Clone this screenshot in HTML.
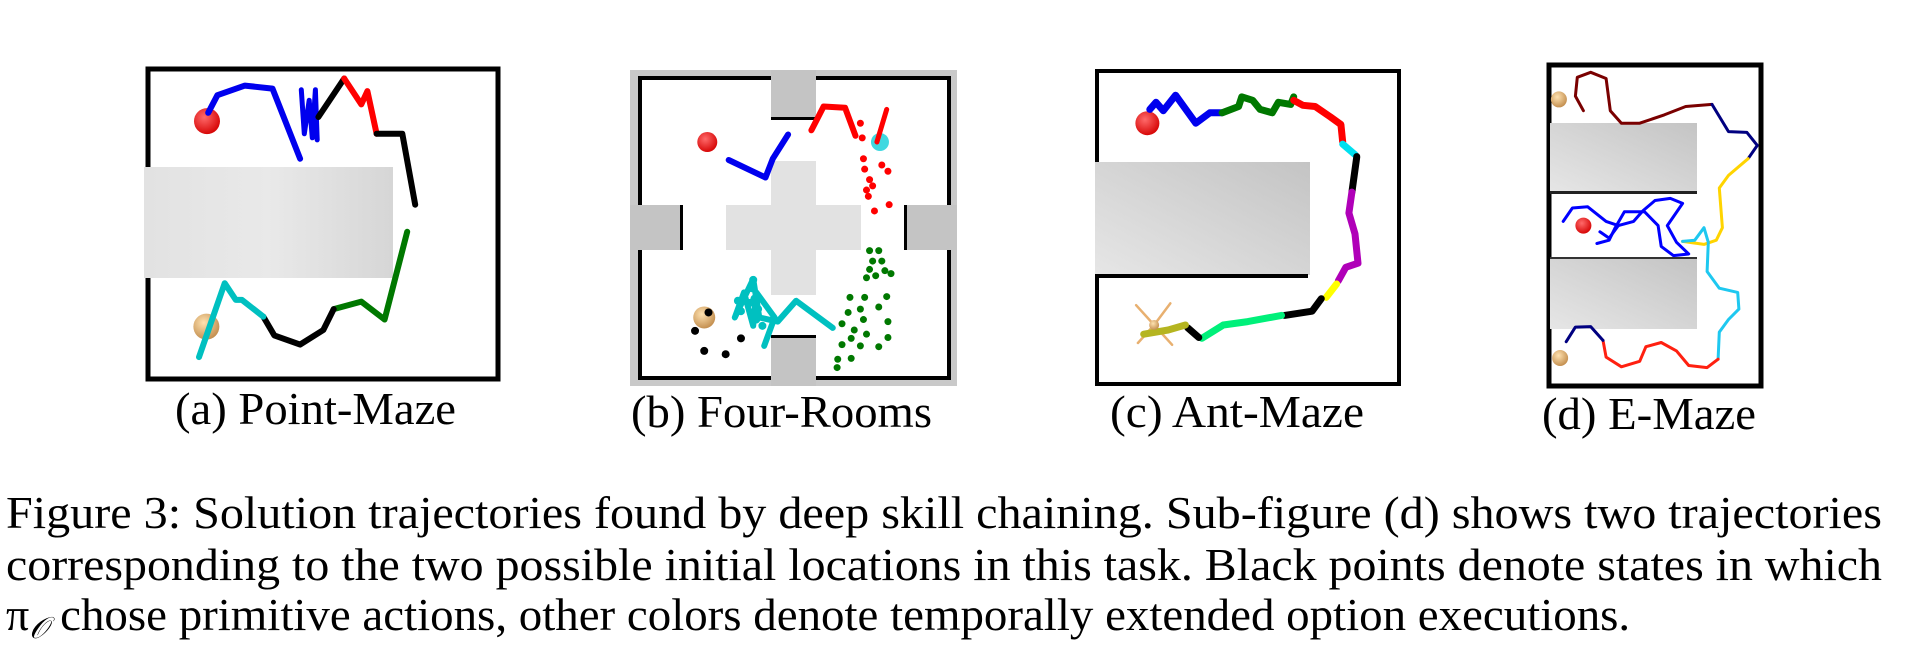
<!DOCTYPE html>
<html><head><meta charset="utf-8"><style>
html,body{margin:0;padding:0;background:#fff;width:1920px;height:655px;overflow:hidden}
svg{display:block}
text{font-family:"Liberation Serif",serif;fill:#000}
</style></head><body>
<svg id="fig" width="1920" height="655" viewBox="0 0 1920 655" xmlns="http://www.w3.org/2000/svg">
<defs>
<linearGradient id="gb" x1="0" y1="1" x2="1" y2="0"><stop offset="0" stop-color="#e6e6e6"/><stop offset="1" stop-color="#c4c4c4"/></linearGradient>
<linearGradient id="gl" x1="0" y1="0" x2="1" y2="0"><stop offset="0" stop-color="#e2e2e2"/><stop offset="0.5" stop-color="#e9e9e9"/><stop offset="1" stop-color="#d6d6d6"/></linearGradient>
<radialGradient id="rb" cx="0.4" cy="0.35" r="0.7"><stop offset="0" stop-color="#ff6a6a"/><stop offset="1" stop-color="#d40000"/></radialGradient>
<radialGradient id="tb" cx="0.4" cy="0.35" r="0.7"><stop offset="0" stop-color="#ffe2b0"/><stop offset="1" stop-color="#c08a4a"/></radialGradient>
</defs>
<g id="static"></g>
<g id="marks"></g>
<text x="175" y="424" font-size="46" textLength="281" lengthAdjust="spacingAndGlyphs">(a) Point-Maze</text>
<text x="631" y="427" font-size="46" textLength="301" lengthAdjust="spacingAndGlyphs">(b) Four-Rooms</text>
<text x="1110" y="427" font-size="46" textLength="254" lengthAdjust="spacingAndGlyphs">(c) Ant-Maze</text>
<text x="1542" y="429" font-size="46" textLength="214" lengthAdjust="spacingAndGlyphs">(d) E-Maze</text>
<text x="6" y="528" font-size="46" textLength="1876" lengthAdjust="spacingAndGlyphs">Figure 3: Solution trajectories found by deep skill chaining. Sub-figure (d) shows two trajectories</text>
<text x="6" y="580" font-size="46" textLength="1876" lengthAdjust="spacingAndGlyphs">corresponding to the two possible initial locations in this task. Black points denote states in which</text>
<text x="6" y="630" font-size="46">π<tspan font-size="30" dy="8" font-style="italic">𝒪</tspan><tspan dy="-8" dx="12" textLength="1570" lengthAdjust="spacingAndGlyphs">chose primitive actions, other colors denote temporally extended option executions.</tspan></text>
</svg>
<script>
// Coordinates on a 1568-unit grid per half of the figure.
const panelA_blue = [[340,270],[355,228],[400,205],[445,212],[490,380]];
const panelA_blueZig = [[492,215],[497,320],[505,240],[510,330],[515,215],[518,335]];
const panelA_black1 = [[520,280],[562,188]];
const panelA_red = [[562,188],[590,250],[600,218],[615,320]];
const panelA_black2 = [[615,320],[657,320],[678,490]];
const panelA_green = [[665,555],[628,765],[590,722],[545,740]];
const panelA_black3 = [[545,740],[528,790],[490,825],[448,803],[430,758]];
const panelA_cyan = [[430,758],[395,718],[385,718],[367,678],[325,855]];

const panelB_blue = [[1190,383],[1250,425],[1262,380],[1287,322]];
const panelB_red1 = [[1325,312],[1345,255],[1380,258],[1397,325]];
const panelB_red2 = [[1448,262],[1432,340]];
const panelB_redDots = [[1405,295],[1408,330],[1410,380],[1412,405],[1420,430],[1425,445],[1418,470],[1428,505],[1450,410],[1452,490],[1415,455],[1440,395]];
const panelB_greenDots = [[1420,600],[1435,600],[1425,625],[1440,625],[1420,645],[1445,648],[1455,655],[1430,660],[1415,665],[1388,712],[1412,712],[1448,710],[1405,740],[1385,748],[1435,735],[1410,765],[1375,775],[1450,770],[1395,790],[1415,800],[1390,810],[1450,808],[1375,825],[1405,828],[1435,830],[1390,858],[1368,860],[1367,880]];
const panelB_cyan = [[1248,828],[1265,760],[1235,700],[1230,780],[1215,700],[1200,760],[1230,668],[1240,760],[1270,770],[1300,720],[1360,785]];
const panelB_cyanDots = [[1230,670],[1228,690],[1232,715],[1238,740],[1235,765],[1225,725],[1245,780],[1205,720],[1210,745]];
const panelB_blackDots = [[1135,792],[1150,840],[1185,848],[1210,810],[1157,748]];

const panelC_segments = [
 ["#0000ee",[[310,262],[320,245],[332,265],[352,228],[367,258],[385,295],[408,270],[428,270]]],
 ["#007800",[[428,270],[455,255],[460,232],[478,240],[490,262],[510,270],[520,245],[540,250],[545,232]]],
 ["#ff0000",[[545,240],[560,252],[580,255],[605,280],[622,298],[625,340]]],
 ["#00e0f0",[[625,345],[645,370]]],
 ["#000000",[[648,375],[640,460]]],
 ["#b000b8",[[640,460],[635,510],[645,560],[650,630],[630,640],[618,672]]],
 ["#ffff00",[[615,680],[598,712]]],
 ["#000000",[[590,715],[575,745],[530,755]]],
 ["#00f07a",[[525,755],[470,770],[430,778],[395,810]]],
 ["#000000",[[390,808],[372,785]]],
 ["#b5b520",[[368,778],[340,790],[300,800]]]
];

const panelD_segments = [
 ["#7a0000",[[1018,265],[1005,230],[1008,185],[1030,173],[1055,188],[1062,265],[1080,295],[1110,295],[1150,275],[1185,255],[1228,250]]],
 ["#000080",[[1228,250],[1255,315],[1285,317],[1302,348],[1287,380]]],
 ["#ffd400",[[1287,380],[1255,420],[1240,450],[1245,545],[1235,575],[1215,585],[1180,578]]],
 ["#0000ff",[[985,530],[1000,498],[1025,495],[1055,530],[1075,540],[1100,530],[1115,505],[1135,480],[1160,475],[1180,487],[1155,540],[1170,580],[1190,608],[1165,612],[1145,590],[1140,540],[1118,507],[1085,507],[1070,545],[1060,575],[1040,583]]],
 ["#0000ff",[[1045,555],[1060,570],[1075,540]]],
 ["#1ec8f0",[[1180,578],[1200,575],[1215,545],[1222,580],[1220,650],[1240,690],[1270,700],[1272,740],[1255,765],[1240,795],[1238,860]]],
 ["#ff2010",[[1238,860],[1220,880],[1190,875],[1170,840],[1145,820],[1120,830],[1110,865],[1080,878],[1055,855],[1050,815]]],
 ["#000080",[[1050,815],[1030,782],[1005,783],[990,818]]]
];

const NS = "http://www.w3.org/2000/svg";
const st = document.getElementById('static');
const mk = document.getElementById('marks');
function sxL(v){return v/1.633;}
function sxR(v){return 960+v/1.633;}
function sy(v){return v/2.394;}
function el(tag, attrs, parent){
  const e=document.createElementNS(NS,tag);
  for(const k in attrs) e.setAttribute(k,attrs[k]);
  parent.appendChild(e); return e;
}
function poly(pts, sx, color, w, name){
  const e=el('polyline',{points:pts.map(p=>sx(p[0]).toFixed(1)+','+sy(p[1]).toFixed(1)).join(' '),fill:'none',stroke:color,'stroke-width':w,'stroke-linejoin':'round','stroke-linecap':'round'},mk);
  
  
}
function dots(pts, sx, color, r, name){
  const g=el('g',{fill:color},mk);
  
  
  pts.forEach(p=>el('circle',{cx:sx(p[0]),cy:sy(p[1]),r:r},g));
}
function rect(x,y,w,h,fill,name){
  const e=el('rect',{x:x,y:y,width:w,height:h,fill:fill},st);
  
  
  return e;
}
function ball(x,y,r,grad,name){
  const e=el('circle',{cx:x,cy:y,r:r,fill:grad},mk);
  
  
}

// ---- Panel A ----
let r=rect(148,69,350,310,'#fff','point-maze-frame'); r.setAttribute('stroke','#000'); r.setAttribute('stroke-width','5');
rect(144,167,249,111,'url(#gl)','point-maze-wall');
ball(sxL(338),sy(290),13,'url(#rb)','point-maze-goal');
ball(sxL(337),sy(782),13,'url(#tb)','point-maze-agent');
poly(panelA_blue,sxL,'#0000ee',6,'point-maze-blue-path');
poly(panelA_blueZig,sxL,'#0000ee',5,'point-maze-blue-zigzag');
poly(panelA_black1,sxL,'#000',6,'point-maze-black-path-1');
poly(panelA_red,sxL,'#ff0000',6,'point-maze-red-path');
poly(panelA_black2,sxL,'#000',6,'point-maze-black-path-2');
poly(panelA_green,sxL,'#007800',6,'point-maze-green-path');
poly(panelA_black3,sxL,'#000',6,'point-maze-black-path-3');
poly(panelA_cyan,sxL,'#00c0c0',6,'point-maze-cyan-path');

// ---- Panel B ----
rect(630,70,327,316,'#c9c9c9','four-rooms-outer');
rect(638,76,313,304,'#000','four-rooms-wall');
rect(642,80,305,296,'#fff','four-rooms-floor');
rect(771,70,45,48,'#c4c4c4','four-rooms-door-top');
rect(771,117,45,3,'#000','four-rooms-door-top-edge');
rect(771,336,45,50,'#c4c4c4','four-rooms-door-bottom');
rect(771,335,45,3,'#000','four-rooms-door-bottom-edge');
rect(630,205,51,45,'#c4c4c4','four-rooms-door-left');
rect(680,205,3,45,'#000','four-rooms-door-left-edge');
rect(905,205,52,45,'#c4c4c4','four-rooms-door-right');
rect(904,205,3,45,'#000','four-rooms-door-right-edge');
rect(771,161,45,134,'#e2e2e2','four-rooms-cross-v');
rect(726,205,135,45,'#e2e2e2','four-rooms-cross-h');
ball(sxL(1155),sy(340),10,'url(#rb)','four-rooms-goal');
ball(sxL(1437),sy(340),9,'#40d8e0','four-rooms-cyan-target');
ball(sxL(1150),sy(760),11,'url(#tb)','four-rooms-agent');
poly(panelB_blue,sxL,'#0000ee',6,'four-rooms-blue-path');
poly(panelB_red1,sxL,'#ff0000',6,'four-rooms-red-path-1');
poly(panelB_red2,sxL,'#ff0000',5,'four-rooms-red-path-2');
dots(panelB_redDots,sxL,'#ff0000',3.5,'four-rooms-red-dots');
dots(panelB_greenDots,sxL,'#007800',3.5,'four-rooms-green-dots');
poly(panelB_cyan,sxL,'#00c0c0',6,'four-rooms-cyan-path');
dots(panelB_cyanDots,sxL,'#00c0c0',4,'four-rooms-cyan-dots');
dots(panelB_blackDots,sxL,'#000',4,'four-rooms-black-dots');

// ---- Panel C ----
r=rect(1097,71,302,313,'#fff','ant-maze-frame'); r.setAttribute('stroke','#000'); r.setAttribute('stroke-width','4');
rect(1095,162,215,113,'url(#gb)','ant-maze-wall');
rect(1095,274,213,4,'#000','ant-maze-wall-edge');
ball(sxR(306),sy(295),12,'url(#rb)','ant-maze-goal');
const ant=el('g',{stroke:'#e8b070','stroke-width':2.5,'stroke-linecap':'round'},mk);


const ax=sxR(317), ay=sy(778);
[[-20,-22],[18,-24],[-18,20],[20,22]].forEach(d=>el('line',{x1:ax,y1:ay,x2:ax+d[0]*0.9,y2:ay+d[1]*0.9},ant));
panelC_segments.forEach((s,i)=>poly(s[1],sxR,s[0],7,'ant-maze-path-'+(i+1)));
ball(ax,ay,5,'url(#tb)','ant-body');

// ---- Panel D ----
r=rect(1549,65,212,321,'#fff','e-maze-frame'); r.setAttribute('stroke','#000'); r.setAttribute('stroke-width','5');
rect(1550,123,147,69,'url(#gb)','e-maze-wall-top');
rect(1550,191,147,3,'#222','e-maze-wall-top-edge');
rect(1550,259,147,70,'url(#gb)','e-maze-wall-bottom');
rect(1550,257,147,2,'#333','e-maze-wall-bottom-edge');
panelD_segments.forEach((s,i)=>poly(s[1],sxR,s[0],3,'e-maze-path-'+(i+1)));
ball(sxR(1018),sy(540),8,'url(#rb)','e-maze-goal');
ball(sxR(978),sy(238),8,'url(#tb)','e-maze-agent-top');
ball(sxR(980),sy(857),8,'url(#tb)','e-maze-agent-bottom');
</script>
</body></html>
